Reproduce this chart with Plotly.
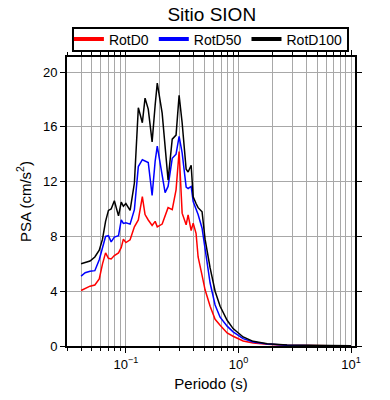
import plotly.graph_objects as go

periods = [0.040, 0.0435, 0.048, 0.053, 0.058, 0.062, 0.066, 0.070, 0.074, 0.079,
           0.086, 0.091, 0.095, 0.100, 0.109, 0.119, 0.129, 0.140, 0.148, 0.158,
           0.171, 0.182, 0.190, 0.210, 0.223, 0.237, 0.258, 0.279, 0.297, 0.316,
           0.343, 0.357, 0.380, 0.396, 0.420, 0.438, 0.475, 0.505, 0.56, 0.62,
           0.687, 0.793, 0.896, 1.10, 1.35, 1.80, 2.70, 5.0, 10.0]

rotd0 = [4.05, 4.2, 4.37, 4.45, 4.9, 6.0, 6.8, 6.4, 6.35, 6.6,
         6.8, 7.2, 7.8, 7.55, 7.75, 8.7, 9.2, 10.9, 9.6, 9.2,
         8.8, 9.1, 8.7, 8.9, 9.5, 10.1, 9.95, 11.4, 14.2, 9.7,
         8.85, 9.57, 8.43, 8.97, 8.23, 6.5, 5.15, 4.1, 2.9, 1.95,
         1.52, 0.95, 0.71, 0.37, 0.22, 0.12, 0.05, 0.02, 0.005]

rotd50 = [5.1, 5.35, 5.45, 5.5, 6.3, 7.2, 8.0, 8.05, 7.6, 7.95,
          8.05, 9.2, 8.95, 9.0, 8.9, 9.95, 13.1, 13.6, 13.5, 13.4,
          11.0, 13.5, 14.6, 12.3, 11.2, 11.65, 13.7, 14.0, 15.3, 14.1,
          11.6, 11.5, 11.65, 10.55, 9.95, 9.6, 8.6, 7.0, 4.6, 3.0,
          2.1, 1.45, 1.03, 0.54, 0.29, 0.15, 0.06, 0.02, 0.008]

rotd100 = [6.0, 6.1, 6.2, 6.5, 7.0, 7.8, 9.1, 9.9, 10.0, 10.6,
           9.5, 10.5, 10.2, 10.4, 9.9, 11.9, 17.4, 16.3, 18.1, 17.3,
           14.9, 17.6, 19.2, 17.0, 14.5, 12.1, 15.1, 15.4, 18.3, 16.3,
           12.9, 12.7, 13.2, 10.9, 10.4, 10.1, 9.8, 7.8, 5.7, 4.0,
           2.9, 1.88, 1.27, 0.66, 0.34, 0.17, 0.08, 0.03, 0.01]

series_names = ["RotD0", "RotD50", "RotD100"]
series_vals = [rotd0, rotd50, rotd100]
series_cols = ["#ff0000", "#0000ff", "#000000"]

x_tickvals = [0.1, 1, 10]
x_ticktext = ["10<sup>\u22121</sup>", "10<sup>0</sup>", "10<sup>1</sup>"]
y_tickvals = [0, 4, 8, 12, 16, 20]

fig = go.Figure()
for name, vals, col in zip(series_names, series_vals, series_cols):
    fig.add_trace(go.Scatter(x=periods, y=vals, mode="lines", name=name,
                             line=dict(color=col, width=1.5), showlegend=False))
for name, col in zip(series_names, series_cols):
    fig.add_trace(go.Scatter(x=[None], y=[None], mode="lines", name=name,
                             line=dict(color=col, width=4), showlegend=True))

font = "Liberation Sans, Arial, Helvetica, sans-serif"
fig.update_layout(
    width=390, height=400,
    margin=dict(l=67, r=35, t=57, b=54, autoexpand=False),
    paper_bgcolor="white", plot_bgcolor="white",
    font=dict(family=font, color="black", size=13),
    title=dict(text="Sitio SION", x=0.543, xanchor="center", y=0.965, yanchor="middle",
               font=dict(size=19, family=font, color="black")),
    showlegend=True,
    legend=dict(orientation="h", x=0.491, xanchor="center", y=1.0606, yanchor="middle",
                borderwidth=0, bgcolor="rgba(0,0,0,0)",
                font=dict(size=14, family=font),
                tracegroupgap=0, itemwidth=30),
    shapes=[dict(type="rect", xref="paper", yref="paper",
                 x0=0.0208, x1=0.9757, y0=1.0208, y1=1.1003,
                 line=dict(color="black", width=2), fillcolor="rgba(0,0,0,0)", layer="above")],
)
fig.update_xaxes(
    type="log", range=[-1.523, 1.035],
    tickvals=x_tickvals, ticktext=x_ticktext,
    ticks="outside", ticklen=5, tickwidth=1, tickcolor="black",
    showline=True, linecolor="black", linewidth=2, mirror="ticks",
    showgrid=True, gridcolor="#a8a8a8", gridwidth=1,
    minor=dict(dtick="D1", showgrid=True, gridcolor="#a8a8a8", gridwidth=1,
               ticks="outside", ticklen=3, tickcolor="black"),
    tickfont=dict(size=13),
    title=dict(text="Periodo (s)", font=dict(size=15), standoff=8),
    zeroline=False,
)
fig.update_yaxes(
    range=[0, 21.1], tickvals=y_tickvals,
    ticks="outside", ticklen=5, tickwidth=1, tickcolor="black",
    showline=True, linecolor="black", linewidth=2, mirror="ticks",
    showgrid=True, gridcolor="#a8a8a8", gridwidth=1,
    tickfont=dict(size=13),
    title=dict(text="PSA (cm/s<sup>2</sup>)", font=dict(size=15), standoff=8),
    zeroline=False,
)
fig.write_html("out.html", config={"displayModeBar": False},
               post_script="document.body.style.margin='0';")
